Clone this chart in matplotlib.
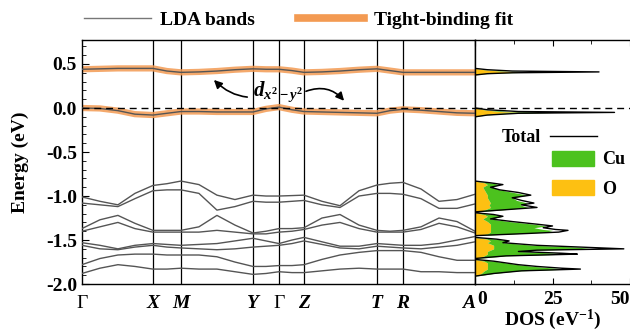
import matplotlib
matplotlib.use("Agg")
import matplotlib.pyplot as plt
import matplotlib.transforms as mtransforms
from matplotlib.lines import Line2D
from matplotlib.patches import Patch
from matplotlib.ticker import MultipleLocator, FormatStrFormatter

plt.rcParams.update({
    "font.family": "Liberation Serif",
    "font.weight": "bold",
    "axes.labelweight": "bold",
    "mathtext.fontset": "custom",
    "mathtext.rm": "Liberation Serif:bold",
    "mathtext.it": "Liberation Serif:italic:bold",
    "mathtext.bf": "Liberation Serif:bold",
    "axes.linewidth": 1.0,
})

# ---------------------------------------------------------------
# data
# ---------------------------------------------------------------
sym_labels = ["Γ", "X", "M", "Y", "Γ", "Z", "T", "R", "A"]
sym_k = [0, 71, 99, 171, 197, 222, 295, 321, 393]

k_path = [0, 18, 36, 53, 71, 85, 99, 117, 135, 153, 171, 184, 197,
          210, 222, 240, 258, 277, 295, 308, 321, 339, 357, 375, 393]

# two bands near E_F (LDA + tight-binding fit)
band_upper = [0.44, 0.445, 0.45, 0.45, 0.45, 0.42, 0.405, 0.41, 0.42, 0.435, 0.445, 0.44, 0.44,
              0.425, 0.405, 0.41, 0.42, 0.435, 0.445, 0.425, 0.405, 0.405, 0.405, 0.405, 0.405]
band_lower = [0.0, -0.005, -0.03, -0.07, -0.08, -0.06, -0.04, -0.04, -0.045, -0.045, -0.045, -0.01, 0.01,
              -0.02, -0.04, -0.045, -0.05, -0.055, -0.06, -0.03, -0.015, -0.025, -0.04, -0.055, -0.06]

# deeper LDA bands
lda_deep = [
    [-1.01, -1.06, -1.10, -0.97, -0.88, -0.86, -0.83, -0.87, -0.99, -1.04, -0.99, -1.00, -1.00,
     -0.995, -0.99, -1.06, -1.11, -0.94, -0.875, -0.855, -0.845, -0.92, -1.06, -1.04, -0.98],
    [-1.08, -1.10, -1.12, -1.03, -0.94, -0.93, -0.93, -0.97, -1.16, -1.12, -1.06, -1.07, -1.07,
     -1.06, -1.05, -1.10, -1.13, -1.00, -0.97, -0.97, -0.98, -1.03, -1.14, -1.14, -1.09],
    [-1.37, -1.27, -1.22, -1.31, -1.39, -1.39, -1.39, -1.35, -1.22, -1.33, -1.42, -1.40, -1.37,
     -1.37, -1.36, -1.25, -1.21, -1.33, -1.39, -1.40, -1.39, -1.35, -1.25, -1.29, -1.40],
    [-1.40, -1.35, -1.30, -1.37, -1.41, -1.41, -1.41, -1.41, -1.39, -1.41, -1.43, -1.43, -1.41,
     -1.40, -1.38, -1.33, -1.30, -1.37, -1.41, -1.41, -1.41, -1.38, -1.31, -1.35, -1.42],
    [-1.53, -1.56, -1.60, -1.56, -1.54, -1.55, -1.56, -1.55, -1.54, -1.51, -1.48, -1.51, -1.54,
     -1.50, -1.47, -1.52, -1.57, -1.57, -1.54, -1.55, -1.56, -1.56, -1.54, -1.50, -1.46],
    [-1.56, -1.60, -1.61, -1.58, -1.56, -1.58, -1.59, -1.60, -1.61, -1.60, -1.58, -1.57, -1.56,
     -1.54, -1.51, -1.55, -1.59, -1.60, -1.57, -1.58, -1.59, -1.60, -1.58, -1.56, -1.52],
    [-1.78, -1.71, -1.67, -1.66, -1.66, -1.67, -1.67, -1.67, -1.69, -1.75, -1.80, -1.80, -1.79,
     -1.79, -1.78, -1.72, -1.67, -1.64, -1.62, -1.62, -1.62, -1.64, -1.69, -1.73, -1.73],
    [-1.88, -1.82, -1.78, -1.80, -1.83, -1.83, -1.82, -1.83, -1.83, -1.86, -1.89, -1.88, -1.86,
     -1.87, -1.87, -1.85, -1.83, -1.82, -1.83, -1.83, -1.83, -1.86, -1.86, -1.87, -1.87],
]

# density of states (eV^-1)
dos_energy = [0.45, 0.435, 0.42, 0.41, 0.40, 0.39, 0.375,
              0.0, -0.02, -0.04, -0.05, -0.06, -0.08, -0.10,
              -0.83, -0.85, -0.87, -0.90, -0.93, -0.96, -0.99, -1.02, -1.05, -1.08, -1.10, -1.13, -1.16, -1.18,
              -1.19, -1.21, -1.23, -1.26, -1.29, -1.32, -1.34, -1.36, -1.38, -1.39, -1.41, -1.43, -1.45,
              -1.47, -1.49, -1.51, -1.53, -1.56, -1.58, -1.60, -1.615, -1.63, -1.65, -1.66, -1.68, -1.70, -1.71,
              -1.72, -1.74, -1.76, -1.78, -1.80, -1.82, -1.83, -1.85, -1.88, -1.90, -1.91]
dos_total = [0, 4, 12, 40, 12, 4, 0,
             0, 4, 14, 45, 14, 4, 0,
             0, 5, 9, 5, 8, 14, 18, 12, 15, 19, 15, 20, 8, 0,
             0, 6, 9, 5, 12, 20, 25, 22, 26, 30, 27, 14, 0,
             0, 7, 11, 9, 20, 34, 48, 20, 14, 28, 33, 10, 3, 0,
             0, 6, 10, 14, 20, 28, 34, 15, 6, 2, 0]
dos_cu = [0, 0.5, 2, 5, 2, 0.5, 0,
          0, 0.5, 3, 11, 3, 0.5, 0,
          0, 2, 4, 3, 5, 9, 13, 8, 9, 12, 10, 12, 5, 0,
          0, 3, 5, 2.5, 7, 14, 18, 14, 17, 20, 18, 8, 0,
          0, 3, 6, 5, 13, 27, 32, 14, 10, 23, 26, 7, 2, 0,
          0, 3, 6, 10, 15, 22, 27, 11, 4, 1, 0]
dos_o = [0, 3, 8, 17, 8, 3, 0,
         0, 3, 8, 16, 8, 3, 0,
         0, 3, 4, 2.5, 3, 3.5, 4, 4, 4.5, 5, 4.5, 5, 3, 0,
         0, 3, 4, 2.5, 4, 5, 5, 5, 5, 5, 5, 4, 0,
         0, 4, 5, 4, 6, 6, 6, 5, 4, 4, 4, 3, 1.5, 0,
         0, 3, 4, 4, 4, 4, 4, 3, 2, 1, 0]
dos_ticks = [0, 25, 50]

LDA_COLOR = "#555555"
TB_COLOR = "#f39a52"
CU_COLOR = "#4cc21e"
O_COLOR = "#fdc012"

# ---------------------------------------------------------------
fig = plt.figure(figsize=(6.3, 3.33), dpi=100)
ax = fig.add_axes([0.130, 0.147, 0.624, 0.733])
ax_dos = fig.add_axes([0.754, 0.147, 0.246, 0.733], sharey=ax)

# bands
for band in (band_upper, band_lower):
    ax.plot(k_path, band, color=TB_COLOR, lw=4.5, alpha=0.85, solid_capstyle="butt", zorder=2)
for band in [band_upper, band_lower] + lda_deep:
    ax.plot(k_path, band, color=LDA_COLOR, lw=1.0, zorder=3)

for k in sym_k[1:-1]:
    ax.axvline(k, color="black", lw=0.9, zorder=1)
ax.axhline(0, color="black", lw=1.0, ls=(0, (5, 3.5)), zorder=4)

ax.set_xlim(sym_k[0], sym_k[-1])
ax.set_ylim(-2.0, 0.773)
ax.set_xticks(sym_k)
ax.set_xticklabels(sym_labels)
for lbl in ax.get_xticklabels():
    if lbl.get_text() == "Γ":
        lbl.set_fontweight("normal")
    else:
        lbl.set_fontstyle("italic")
last_lbl = ax.get_xticklabels()[-1]
last_lbl.set_horizontalalignment("right")
last_lbl.set_transform(last_lbl.get_transform()
                       + mtransforms.ScaledTranslation(-3 / 72, 0, fig.dpi_scale_trans))
ax.tick_params(axis="x", length=0, pad=8, labelsize=14)
ax.yaxis.set_major_locator(MultipleLocator(0.5))
ax.yaxis.set_minor_locator(MultipleLocator(0.1))
ax.yaxis.set_major_formatter(FormatStrFormatter("%.1f"))
ax.tick_params(axis="y", which="both", direction="in", labelsize=14)
ax.tick_params(axis="y", which="major", length=5)
ax.tick_params(axis="y", which="minor", length=3)
ax.set_ylabel("Energy (eV)", fontsize=14, labelpad=12)

# d_{x2-y2} annotation
ax.annotate(r"$d_{x^2-y^2}$", xy=(131, 0.33), xytext=(196, 0.19),
            ha="center", va="center", fontsize=15,
            arrowprops=dict(arrowstyle="-|>", color="black", lw=1.2,
                            mutation_scale=12, shrinkA=2, shrinkB=1,
                            connectionstyle="arc3,rad=-0.35"))
ax.annotate("", xy=(263, 0.07), xytext=(224, 0.19),
            arrowprops=dict(arrowstyle="-|>", color="black", lw=1.2,
                            mutation_scale=12, shrinkA=0, shrinkB=1,
                            connectionstyle="arc3,rad=-0.35"))

# DOS panel
o_edge = dos_o
cu_edge = [o + c for o, c in zip(dos_o, dos_cu)]
ax_dos.fill_betweenx(dos_energy, 0, o_edge, color=O_COLOR, lw=0, zorder=2)
ax_dos.fill_betweenx(dos_energy, o_edge, cu_edge, color=CU_COLOR, lw=0, zorder=2)
ax_dos.plot(dos_total, dos_energy, color="black", lw=1.0, zorder=3)
ax_dos.axhline(0, color="black", lw=1.0, ls=(0, (5, 3.5)), zorder=4)

ax_dos.set_xlim(0, 50)
ax_dos.set_xticks(dos_ticks)
ax_dos.set_xticklabels([str(t) for t in dos_ticks])
ax_dos.xaxis.set_minor_locator(MultipleLocator(12.5))
ax_dos.tick_params(axis="x", which="both", direction="in", top=True, labelsize=14, pad=5)
ax_dos.tick_params(axis="x", which="major", length=4)
ax_dos.tick_params(axis="x", which="minor", length=3)
ax_dos.tick_params(axis="y", which="both", left=False, right=False, labelleft=False)
ax_dos.spines["right"].set_visible(False)
dos_ticklabels = ax_dos.get_xticklabels()
dos_ticklabels[0].set_transform(dos_ticklabels[0].get_transform()
                                + mtransforms.ScaledTranslation(5 / 72, 0, fig.dpi_scale_trans))
dos_ticklabels[-1].set_horizontalalignment("right")
ax_dos.set_xlabel(r"DOS (eV$^{-1}$)", fontsize=14, labelpad=0)

leg_total = ax_dos.legend([Line2D([], [], color="black", lw=1.0)], ["Total"],
                          loc="center", bbox_to_anchor=(0.48, 0.60), frameon=False,
                          markerfirst=False, handlelength=2.6, handletextpad=0.5,
                          fontsize=13, borderpad=0)
ax_dos.add_artist(leg_total)
ax_dos.legend([Patch(color=CU_COLOR), Patch(color=O_COLOR)], ["Cu", "O"],
              loc="center left", bbox_to_anchor=(0.44, 0.45), frameon=False,
              handlelength=2.3, handleheight=0.9, handletextpad=0.45,
              labelspacing=0.65, fontsize=13, borderpad=0)

# top legend
fig.legend([Line2D([], [], color="#777777", lw=1.0),
            Line2D([], [], color=TB_COLOR, lw=5.5)],
           ["LDA bands", "Tight-binding fit"],
           loc="center", bbox_to_anchor=(0.474, 0.94), ncol=2, frameon=False,
           handlelength=3.4, columnspacing=2.2, handletextpad=0.5, fontsize=14)

fig.savefig("out.png", dpi=100)
